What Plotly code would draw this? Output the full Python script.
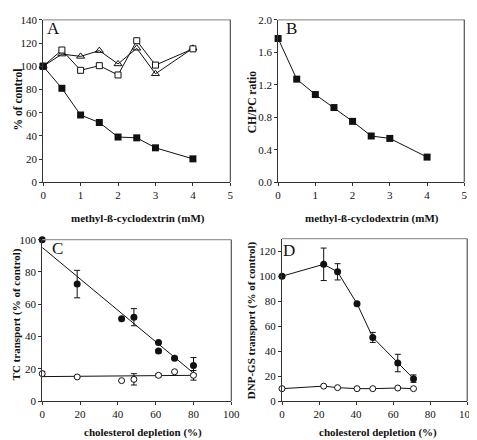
import plotly.graph_objects as go

W, H = 477, 440

# ---- Panel A data ----
a_x = [0, 0.5, 1, 1.5, 2, 2.5, 3, 4]
a_filled_sq = [100, 81, 58, 51.5, 39, 38.3, 29.7, 20.2]
a_open_sq = [100, 114, 96.5, 100.5, 92.5, 122, 101, 115]
a_triangle = [100, 110.5, 108.5, 113.5, 102, 115.5, 93.5, 115.5]
a_xticks = [0, 1, 2, 3, 4, 5]
a_yticks = [0, 20, 40, 60, 80, 100, 120, 140]

# ---- Panel B data ----
b_x = [0, 0.5, 1, 1.5, 2, 2.5, 3, 4]
b_ratio = [1.77, 1.27, 1.08, 0.92, 0.75, 0.57, 0.54, 0.31]
b_xticks = [0, 1, 2, 3, 4, 5]
b_yticks = [0.0, 0.4, 0.8, 1.2, 1.6, 2.0]

# ---- Panel C data ----
c_filled_x = [0, 18.5, 42, 48.5, 61.5, 61.5, 70, 80]
c_filled_y = [100, 72.5, 51, 52, 36.3, 31, 26.5, 22]
c_filled_err = [0, 8.5, 0, 5.3, 0, 1, 0.6, 5]
c_open_x = [0, 18.5, 42, 48.5, 61.5, 70, 80]
c_open_y = [17, 15, 12.7, 13.5, 16, 18.2, 16]
c_open_err = [1.5, 0.5, 0, 3.5, 1, 0, 3]
c_fit_x = [0, 80]
c_fit_y = [95.2, 17.4]
c_open_fit_x = [0, 80]
c_open_fit_y = [15.2, 16]
c_xticks = [0, 20, 40, 60, 80, 100]
c_yticks = [0, 20, 40, 60, 80, 100]

# ---- Panel D data ----
d_x = [0, 22.5, 30, 40.5, 49, 62.5, 71]
d_filled_y = [100, 109.5, 103.5, 78, 51, 30.5, 18]
d_filled_err = [0, 13, 6.5, 1, 4, 7, 3]
d_open_y = [10, 12, 10.8, 10, 10, 10.5, 10]
d_xticks = [0, 20, 40, 60, 80, 100]
d_yticks = [0, 20, 40, 60, 80, 100, 120]

FONT = "Liberation Serif, Times New Roman, serif"

# plot boxes in pixel coordinates (left, right, top, bottom)
boxes = {
    "A": (33, 225, 6, 173),
    "B": (274, 465, 6, 173),
    "C": (32, 226, 232, 398),
    "D": (278, 468, 231, 398),
}

def xd(l, r):
    return [l / W, r / W]

def yd(t, b):
    return [1 - b / H, 1 - t / H]

fig = go.Figure()

def axis_common(ticks_vals, rng, domain, anchor, fmt=None):
    d = dict(
        domain=domain, anchor=anchor, range=rng, tickvals=ticks_vals,
        ticks="outside", ticklen=3, tickwidth=1, tickcolor="#333",
        showline=True, linecolor="#333", linewidth=1, mirror=False,
        showgrid=False, zeroline=False, fixedrange=True,
        tickfont=dict(family=FONT, size=11, color="#111"),
    )
    if fmt:
        d["tickformat"] = fmt
    return d

line_k = dict(color="#111", width=1)

# ---- A ----
fig.add_trace(go.Scatter(x=a_x, y=a_triangle, mode="lines+markers", line=line_k,
                         marker=dict(symbol="triangle-up-open", size=7, color="#111", line=dict(width=1)),
                         xaxis="x", yaxis="y", cliponaxis=False))
fig.add_trace(go.Scatter(x=a_x, y=a_open_sq, mode="lines+markers", line=line_k,
                         marker=dict(symbol="square", size=6, color="white", line=dict(width=1, color="#111")),
                         xaxis="x", yaxis="y", cliponaxis=False))
fig.add_trace(go.Scatter(x=a_x, y=a_filled_sq, mode="lines+markers", line=line_k,
                         marker=dict(symbol="square", size=7, color="#111"),
                         xaxis="x", yaxis="y", cliponaxis=False))

# ---- B ----
fig.add_trace(go.Scatter(x=b_x, y=b_ratio, mode="lines+markers", line=line_k,
                         marker=dict(symbol="square", size=7, color="#111"),
                         xaxis="x2", yaxis="y2", cliponaxis=False))

# ---- C ----
fig.add_trace(go.Scatter(x=c_fit_x, y=c_fit_y, mode="lines", line=line_k,
                         xaxis="x3", yaxis="y3", cliponaxis=False))
fig.add_trace(go.Scatter(x=c_open_fit_x, y=c_open_fit_y, mode="lines", line=line_k,
                         xaxis="x3", yaxis="y3", cliponaxis=False))
fig.add_trace(go.Scatter(x=c_filled_x, y=c_filled_y, mode="markers",
                         marker=dict(symbol="circle", size=7, color="#111"),
                         error_y=dict(type="data", array=c_filled_err, color="#111", thickness=1, width=3),
                         xaxis="x3", yaxis="y3", cliponaxis=False))
fig.add_trace(go.Scatter(x=c_open_x, y=c_open_y, mode="markers",
                         marker=dict(symbol="circle", size=6, color="white", line=dict(width=1, color="#111")),
                         error_y=dict(type="data", array=c_open_err, color="#111", thickness=1, width=3),
                         xaxis="x3", yaxis="y3", cliponaxis=False))

# ---- D ----
fig.add_trace(go.Scatter(x=d_x, y=d_filled_y, mode="lines+markers", line=line_k,
                         marker=dict(symbol="circle", size=7, color="#111"),
                         error_y=dict(type="data", array=d_filled_err, color="#111", thickness=1, width=3),
                         xaxis="x4", yaxis="y4", cliponaxis=False))
fig.add_trace(go.Scatter(x=d_x, y=d_open_y, mode="lines+markers", line=line_k,
                         marker=dict(symbol="circle", size=6, color="white", line=dict(width=1, color="#111")),
                         xaxis="x4", yaxis="y4", cliponaxis=False))

l, r, t, b = boxes["A"]
fig.update_layout(xaxis=axis_common(a_xticks, [0, 5], xd(l, r), "y"),
                  yaxis=axis_common(a_yticks, [0, 140], yd(t, b), "x"))
l, r, t, b = boxes["B"]
fig.update_layout(xaxis2=axis_common(b_xticks, [0, 5], xd(l, r), "y2"),
                  yaxis2=axis_common(b_yticks, [0, 2], yd(t, b), "x2", fmt=".1f"))
l, r, t, b = boxes["C"]
fig.update_layout(xaxis3=axis_common(c_xticks, [0, 100], xd(l, r), "y3"),
                  yaxis3=axis_common(c_yticks, [0, 100], yd(t, b), "x3"))
l, r, t, b = boxes["D"]
fig.update_layout(xaxis4=axis_common(d_xticks, [0, 100], xd(l, r), "y4"),
                  yaxis4=axis_common(d_yticks, [0, 130], yd(t, b), "x4"))

# top/right borders in grey
shapes = []
for k, (l, r, t, b) in boxes.items():
    shapes.append(dict(type="line", xref="paper", yref="paper", x0=l / W, x1=r / W,
                       y0=1 - t / H, y1=1 - t / H, line=dict(color="#999", width=1.2)))
    shapes.append(dict(type="line", xref="paper", yref="paper", x0=r / W, x1=r / W,
                       y0=1 - t / H, y1=1 - b / H, line=dict(color="#555", width=1.2)))

# annotations: titles and panel letters
ann = []
def txt(s, x, y, size=11, bold=True, angle=0):
    ann.append(dict(text=f"<b>{s}</b>" if bold else s, x=x / W, y=1 - y / H,
                    xref="paper", yref="paper", showarrow=False, textangle=angle,
                    font=dict(family=FONT, size=size, color="#111"),
                    xanchor="center", yanchor="middle"))

txt("methyl-ß-cyclodextrin (mM)", 130, 210)
txt("methyl-ß-cyclodextrin (mM)", 370, 210)
txt("cholesterol depletion (%)", 135, 430)
txt("cholesterol depletion (%)", 376, 430)
txt("% of control", 7, 88, size=11.5, angle=-90)
txt("CH/PC ratio", 247, 90, size=11.5, angle=-90)
txt("TC transport (% of control)", 6, 309, angle=-90)
txt("DNP-GS transport (% of control)", 247, 315, angle=-90)
txt("A", 44, 15, size=17, bold=False)
txt("B", 288, 15, size=17, bold=False)
txt("C", 48, 241, size=17, bold=False)
txt("D", 285, 243, size=17, bold=False)

fig.update_layout(width=W, height=H, margin=dict(l=0, r=0, t=0, b=0),
                  paper_bgcolor="white", plot_bgcolor="white", showlegend=False,
                  shapes=shapes, annotations=ann)

fig.write_html("out.html")
